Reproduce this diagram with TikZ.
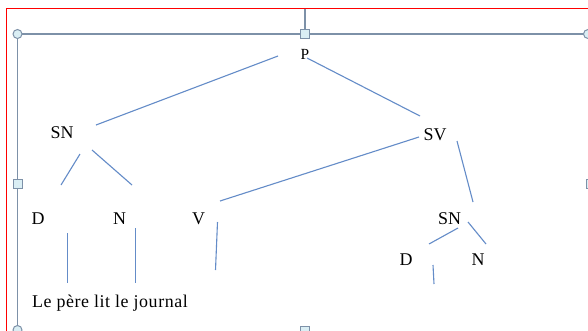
\documentclass[tikz,border=0pt]{standalone}
\usepackage{fontspec}
\setmainfont{Liberation Serif}
\definecolor{treeblue}{RGB}{100,140,200}
\definecolor{framegray}{RGB}{125,145,168}
\definecolor{gripfill}{RGB}{218,238,244}

\begin{document}
\begin{tikzpicture}[x=1bp, y=-1bp, every node/.style={font=\fontsize{18}{20}\selectfont, inner sep=1pt},
    branch/.style={draw=treeblue, line width=1.1bp},
    selframe/.style={draw=framegray, line width=1.4bp},
    grip/.style={draw=framegray, fill=gripfill, line width=1bp}]
    \useasboundingbox (0,0) rectangle (588,330);
    \fill[white] (0,0) rectangle (588,330);

    % page border and selection frame
    \draw[red, line width=1bp] (6.5,332) -- (6.5,8.5) -- (590,8.5);
    \draw[selframe] (17.5,334) -- (17.5,34) -- (592,34);
    \draw[selframe] (305,8.5) -- (305,34);
    \draw[grip] (17.5,34) circle (4.5);
    \draw[grip] (588,34) circle (4.5);
    \draw[grip] (17.5,330) circle (4.5);
    \draw[grip] (300.5,29.5) rectangle (309.5,38.5);
    \draw[grip] (13.5,179) rectangle (22.5,188);
    \draw[grip] (586,179) rectangle (595,188);
    \draw[grip] (300.5,326) rectangle (309.5,335);

    % labels
    \node[font=\fontsize{15.5}{17}\selectfont] (p) at (305,54) {P};
    \node (sn) at (62,133) {SN};
    \node (sv) at (435,135) {SV};
    \node (d) at (38,219) {D};
    \node (n) at (119.5,219) {N};
    \node (v) at (198.5,219) {V};
    \node (snv) at (449.5,218.5) {SN};
    \node (dv) at (406,259.5) {D};
    \node (nv) at (478,259.5) {N};
    \node[anchor=base west, inner sep=0pt, font=\fontsize{18}{20}\selectfont\addfontfeature{LetterSpace=3}] (phrase) at (32,307) {Le père lit le journal};

    \coordinate (le) at (67.5,283);
    \coordinate (pere) at (135.5,283);
    \coordinate (lit) at (215.5,270);
    \coordinate (jour) at (434,284);

    % branches
    \draw[branch] ([shift={(-27,2)}]p.center) -- ([shift={(34,-8)}]sn.center);
    \draw[branch] ([shift={(2,4)}]p.center) -- ([shift={(-15,-19)}]sv.center);
    \draw[branch] ([shift={(18,21)}]sn.center) -- ([shift={(23,-34)}]d.center);
    \draw[branch] ([shift={(30,17)}]sn.center) -- ([shift={(12.5,-34)}]n.center);
    \draw[branch] ([shift={(-16,2)}]sv.center) -- ([shift={(21.5,-18)}]v.center);
    \draw[branch] ([shift={(22,6)}]sv.center) -- ([shift={(23.5,-16.5)}]snv.center);
    \draw[branch] ([shift={(8.5,9.5)}]snv.center) -- ([shift={(23,-15.5)}]dv.center);
    \draw[branch] ([shift={(18.5,3.5)}]snv.center) -- ([shift={(8,-15.5)}]nv.center);
    \draw[branch] ([shift={(29.5,14)}]d.center) -- (le);
    \draw[branch] ([shift={(16,9)}]n.center) -- (pere);
    \draw[branch] ([shift={(19,3)}]v.center) -- (lit);
    \draw[branch] ([shift={(27,5.5)}]dv.center) -- (jour);
\end{tikzpicture}
\end{document}
